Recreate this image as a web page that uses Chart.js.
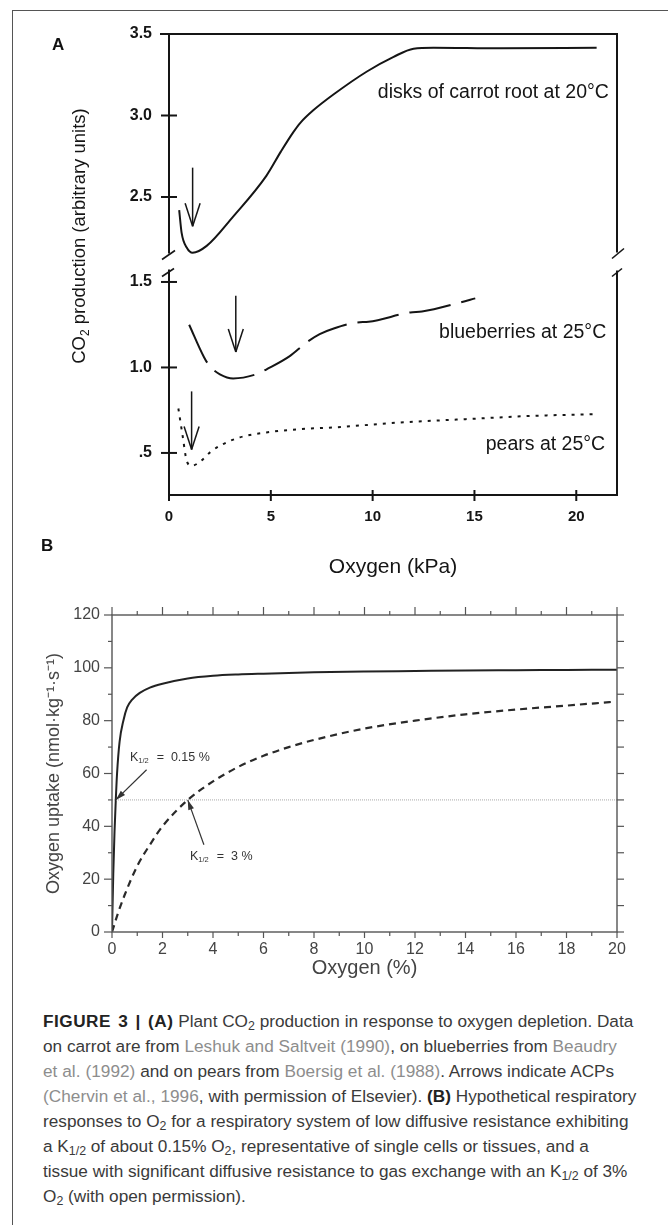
<!DOCTYPE html>
<html><head><meta charset="utf-8">
<script src="https://cdn.jsdelivr.net/npm/chart.js@4.4.0/dist/chart.umd.min.js"></script>
<style>
html,body{margin:0;padding:0;background:#fff;}
#page{position:relative;width:668px;height:1225px;overflow:hidden;background:#fff;}
#frame{position:absolute;left:12px;top:10px;width:700px;height:1300px;border-top:1px solid #555;border-left:1px solid #555;}
canvas{position:absolute;left:0;}
#cA{top:0;}
#cB{top:590px;}
.plab{position:absolute;font:bold 17px "Liberation Sans",Arial,sans-serif;color:#111;}
#caption{position:absolute;left:43px;top:1009px;font-family:"Liberation Sans",Arial,sans-serif;font-size:17.2px;line-height:25px;color:#3a3a3a;white-space:nowrap;}
#caption b{color:#222;}
#caption b.fig{letter-spacing:0.5px;word-spacing:2px;}
#caption sub{font-size:0.72em;vertical-align:-0.25em;line-height:0;}
.ref{color:#8d8d8d;letter-spacing:0.05px;}
</style></head>
<body>
<div id="page">
<div id="frame"></div>
<canvas id="cA" width="668" height="590"></canvas>
<canvas id="cB" width="668" height="410"></canvas>
<div class="plab" style="left:52px;top:35px;">A</div>
<div class="plab" style="left:41px;top:536px;">B</div>
<div id="caption"><b class="fig">FIGURE 3 | (A)</b> Plant CO<sub>2</sub> production in response to oxygen depletion. Data<br>on carrot are from <span class="ref">Leshuk and Saltveit (1990)</span>, on blueberries from <span class="ref">Beaudry</span><br><span class="ref">et al. (1992)</span> and on pears from <span class="ref">Boersig et al. (1988)</span>. Arrows indicate ACPs<br><span class="ref">(Chervin et al., 1996</span>, with permission of Elsevier). <b>(B)</b> Hypothetical respiratory<br>responses to O<sub>2</sub> for a respiratory system of low diffusive resistance exhibiting<br>a K<sub>1/2</sub> of about 0.15% O<sub>2</sub>, representative of single cells or tissues, and a<br>tissue with significant diffusive resistance to gas exchange with an K<sub>1/2</sub> of 3%<br>O<sub>2</sub> (with open permission).</div>
</div>
<script>
// ---------------- Panel A data ----------------
const carrotO2  = [0.50, 0.62, 0.87, 1.16, 1.85, 3.15, 4.78, 5.5, 6.09, 6.45, 7.07, 8.09, 9.72, 11.03, 12.01, 12.99, 16.26, 21.0];
const carrotCO2 = [2.42, 2.28, 2.19, 2.158, 2.20, 2.38, 2.63, 2.78, 2.895, 2.955, 3.03, 3.13, 3.27, 3.36, 3.41, 3.416, 3.412, 3.416];
const blueO2    = [0.99, 1.72, 2.01, 2.5, 3.15, 4.3, 4.87, 5.93, 6.75, 7.40, 8.09, 9.23, 9.80, 11.85, 12.42, 14.3, 15.04];
const blueCO2   = [1.25, 1.06, 1.006, 0.96, 0.936, 0.961, 0.994, 1.066, 1.146, 1.195, 1.228, 1.263, 1.267, 1.322, 1.327, 1.38, 1.404];
const pearO2    = [0.46, 0.67, 0.87, 1.11, 1.52, 2.01, 2.5, 3.48, 4.79, 6.42, 8.05, 11.36, 14.62, 17.89, 21.0];
const pearCO2   = [0.76, 0.60, 0.454, 0.425, 0.448, 0.503, 0.542, 0.591, 0.620, 0.639, 0.649, 0.678, 0.698, 0.717, 0.727];
const acpO2     = [1.16, 3.28, 1.11];      // arrows: carrot, blueberries, pears
const acpTail   = [2.68, 1.42, 0.86];
const acpTip    = [2.32, 1.09, 0.52];
const xTicksA          = [0, 5, 10, 15, 20];
const yTicksTop        = [2.5, 3.0, 3.5];
const yTickLabelsTop   = ['2.5', '3.0', '3.5'];
const yTicksBottom     = [0.5, 1.0, 1.5];
const yTickLabelsBottom= ['.5', '1.0', '1.5'];
const seriesNamesA     = ['disks of carrot root at 20°C', 'blueberries at 25°C', 'pears at 25°C'];

// ---------------- Panel B data ----------------
const o2PctLowK  = [0, 0.05, 0.1, 0.15, 0.2, 0.3, 0.45, 0.6, 0.8, 1.1, 1.5, 2, 3, 4, 5, 6, 8, 10, 12, 14, 16, 18, 20];
const uptakeLowK = [0, 22, 38, 50, 60, 72, 80, 85, 88, 90.5, 92.5, 94, 96, 97, 97.5, 97.8, 98.3, 98.6, 98.8, 99, 99.1, 99.2, 99.3];
const o2PctHighK  = [0, 0.25, 0.5, 1, 1.5, 2, 3, 4, 5, 6, 7, 8, 10, 12, 14, 16, 18, 19.8];
const uptakeHighK = [0, 7.5, 14, 25, 33, 40, 50, 57, 62.5, 66.7, 70, 72.7, 77, 80, 82.4, 84.2, 85.7, 87.1];
const halfO2     = [0, 20];
const halfUptake = [50, 50];
const kHalfO2    = [0.15, 3];
const kHalfText  = ['0.15 %', '3 %'];

Chart.defaults.font.family = '"Liberation Sans", Arial, sans-serif';

const pts = (xs, ys) => xs.map((x, i) => ({x, y: ys[i]}));

// annotation placement (data units)
const labelPosA = [
  {axis: 'yTop', x: 21.6, y: 3.138},
  {axis: 'yBot', x: 21.47, y: 1.206},
  {axis: 'yBot', x: 21.42, y: 0.546}
];
const acpAxis = ['yTop', 'yBot', 'yBot'];

const panelAPlugin = {
  id: 'panelA',
  afterDatasetsDraw(chart) {
    const {ctx, chartArea: ca, scales} = chart;
    const yT = scales.yTop, yB = scales.yBot, xs = scales.x;
    const L = ca.left, R = ca.right, T = ca.top, B = ca.bottom;
    const brk = yT.bottom;
    const line = (x1, y1, x2, y2) => { ctx.beginPath(); ctx.moveTo(x1, y1); ctx.lineTo(x2, y2); ctx.stroke(); };
    ctx.save();
    ctx.strokeStyle = '#151515';
    ctx.lineWidth = 2;
    line(L - 9, T, R + 1, T);
    line(L, T, L, brk - 10);
    line(L, brk + 6, L, B + 1);
    line(R, T - 1, R, brk - 11);
    line(R, brk + 7, R, B + 1);
    line(L - 1, B, R + 1, B);
    ctx.lineWidth = 1.6;
    line(L - 7, brk - 4, L + 6, brk - 13);
    line(L - 7, brk + 13, L + 5, brk + 5);
    line(R - 5, brk - 5, R + 7, brk - 15);
    line(R - 5, brk + 13, R + 5, brk + 5);
    ctx.lineWidth = 2;
    yTicksTop.forEach(v => { const p = yT.getPixelForValue(v); line(L - 8, p, L + 8, p); });
    yTicksBottom.forEach(v => { const p = yB.getPixelForValue(v); line(L - 8, p, L + 8, p); });
    xTicksA.forEach(v => { const p = xs.getPixelForValue(v); line(p, B - 5, p, B + 6); });
    // ACP arrows
    ctx.lineWidth = 1.5;
    acpO2.forEach((xv, i) => {
      const sc = scales[acpAxis[i]];
      const px = xs.getPixelForValue(xv);
      const y1 = sc.getPixelForValue(acpTail[i]);
      const y2 = sc.getPixelForValue(acpTip[i]);
      line(px, y1, px, y2);
      line(px - 7.5, y2 - 23, px, y2);
      line(px + 7.5, y2 - 23, px, y2);
    });
    // series labels
    ctx.fillStyle = '#151515';
    ctx.font = '19.5px "Liberation Sans", Arial, sans-serif';
    ctx.textAlign = 'right';
    ctx.textBaseline = 'middle';
    labelPosA.forEach((p, i) => {
      ctx.fillText(seriesNamesA[i], xs.getPixelForValue(p.x), scales[p.axis].getPixelForValue(p.y));
    });
    // y-axis title with subscript
    ctx.translate(79, 236);
    ctx.rotate(-Math.PI / 2);
    const big = '18.5px "Liberation Sans", Arial, sans-serif';
    const small = '12px "Liberation Sans", Arial, sans-serif';
    ctx.font = big; const w1 = ctx.measureText('CO').width; const w3 = ctx.measureText(' production (arbitrary units)').width;
    ctx.font = small; const w2 = ctx.measureText('2').width;
    let x0 = -(w1 + w2 + w3) / 2;
    ctx.textAlign = 'left';
    ctx.textBaseline = 'alphabetic';
    ctx.font = big; ctx.fillText('CO', x0, 6);
    ctx.font = small; ctx.fillText('2', x0 + w1, 10);
    ctx.font = big; ctx.fillText(' production (arbitrary units)', x0 + w1 + w2, 6);
    ctx.restore();
  }
};

new Chart(document.getElementById('cA'), {
  type: 'line',
  data: {
    datasets: [
      {label: seriesNamesA[0], data: pts(carrotO2, carrotCO2), yAxisID: 'yTop', borderColor: '#151515', borderWidth: 2, pointRadius: 0, cubicInterpolationMode: 'monotone', fill: false},
      {label: seriesNamesA[1], data: pts(blueO2, blueCO2), yAxisID: 'yBot', borderColor: '#151515', borderWidth: 2, borderDash: [42, 11], pointRadius: 0, cubicInterpolationMode: 'monotone', fill: false},
      {label: seriesNamesA[2], data: pts(pearO2, pearCO2), yAxisID: 'yBot', borderColor: '#151515', borderWidth: 2, borderDash: [3, 6], pointRadius: 0, cubicInterpolationMode: 'monotone', fill: false}
    ]
  },
  options: {
    responsive: false, animation: false, events: [],
    layout: {padding: {top: 34, right: 51, bottom: 0, left: 0}},
    plugins: {legend: {display: false}, tooltip: {enabled: false}},
    scales: {
      x: {
        type: 'linear', position: 'bottom', min: 0, max: 22,
        grid: {display: false, drawTicks: false}, border: {display: false},
        afterBuildTicks: s => { s.ticks = xTicksA.map(v => ({value: v})); },
        afterFit: s => { s.height = 95; },
        ticks: {padding: 13, color: '#151515', font: {size: 15, weight: 'bold'}, callback: v => String(v)},
        title: {display: true, text: 'Oxygen (kPa)', color: '#151515', font: {size: 21}, padding: {top: 0, bottom: 10}}
      },
      yBot: {
        type: 'linear', position: 'left', stack: 'A', stackWeight: 231.5, min: 0.254, max: 1.608,
        grid: {display: false, drawTicks: false}, border: {display: false},
        afterBuildTicks: s => { s.ticks = yTicksBottom.map(v => ({value: v})); },
        afterFit: s => { s.width = 169; },
        ticks: {padding: 17, color: '#151515', font: {size: 16, weight: 'bold'}, callback: v => yTickLabelsBottom[yTicksBottom.indexOf(v)]}
      },
      yTop: {
        type: 'linear', position: 'left', stack: 'A', stackWeight: 229.5, min: 2.092, max: 3.5,
        grid: {display: false, drawTicks: false}, border: {display: false},
        afterBuildTicks: s => { s.ticks = yTicksTop.map(v => ({value: v})); },
        afterFit: s => { s.width = 169; },
        ticks: {padding: 17, color: '#151515', font: {size: 16, weight: 'bold'}, callback: v => yTickLabelsTop[yTicksTop.indexOf(v)]}
      }
    }
  },
  plugins: [panelAPlugin]
});

// ---------------- Panel B ----------------
const kLabelPos = [ {lx: 0.71, ly: 65.9, tx: 1.37, ty: 61.4}, {lx: 3.09, ly: 28.4, tx: 3.64, ty: 33} ];

const panelBPlugin = {
  id: 'panelB',
  afterDatasetsDraw(chart) {
    const {ctx, chartArea: ca, scales: {x, y}} = chart;
    const L = ca.left, R = ca.right, T = ca.top, B = ca.bottom;
    const line = (x1, y1, x2, y2) => { ctx.beginPath(); ctx.moveTo(x1, y1); ctx.lineTo(x2, y2); ctx.stroke(); };
    ctx.save();
    ctx.strokeStyle = '#555';
    ctx.lineWidth = 1.4;
    ctx.strokeRect(L, T, R - L, B - T);
    ctx.lineWidth = 1.2;
    for (let v = 0; v <= 120; v += 10) {
      const p = y.getPixelForValue(v);
      line(L, p, L - (v % 20 === 0 ? 8 : 4), p);
      line(R, p, R + 7, p);
    }
    for (let v = 0; v <= 20; v += 1) {
      const p = x.getPixelForValue(v);
      line(p, B, p, B + (v % 2 === 0 ? 6 : 4));
      line(p, T, p, T - (v % 2 === 0 ? 8 : 4));
    }
    // K1/2 arrows and labels
    ctx.strokeStyle = '#333'; ctx.fillStyle = '#333'; ctx.lineWidth = 1.2;
    kHalfO2.forEach((k, i) => {
      const tipX = x.getPixelForValue(k), tipY = y.getPixelForValue(50);
      const tX = x.getPixelForValue(kLabelPos[i].tx), tY = y.getPixelForValue(kLabelPos[i].ty);
      line(tX, tY, tipX, tipY);
      const ang = Math.atan2(tipY - tY, tipX - tX);
      ctx.beginPath();
      ctx.moveTo(tipX, tipY);
      ctx.lineTo(tipX - 10 * Math.cos(ang) + 3 * Math.sin(ang), tipY - 10 * Math.sin(ang) - 3 * Math.cos(ang));
      ctx.lineTo(tipX - 10 * Math.cos(ang) - 3 * Math.sin(ang), tipY - 10 * Math.sin(ang) + 3 * Math.cos(ang));
      ctx.closePath(); ctx.fill();
      const lx = x.getPixelForValue(kLabelPos[i].lx), ly = y.getPixelForValue(kLabelPos[i].ly);
      ctx.textBaseline = 'middle'; ctx.textAlign = 'left';
      ctx.font = '12.5px "Liberation Sans", Arial, sans-serif';
      ctx.fillText('K', lx, ly);
      const wk = ctx.measureText('K').width;
      ctx.font = '7.5px "Liberation Sans", Arial, sans-serif';
      ctx.fillText('1/2', lx + wk, ly + 3);
      const ws = ctx.measureText('1/2').width;
      ctx.font = '12.5px "Liberation Sans", Arial, sans-serif';
      ctx.fillText('  =  ' + kHalfText[i], lx + wk + ws + 1, ly);
    });
    ctx.restore();
  }
};

new Chart(document.getElementById('cB'), {
  type: 'line',
  data: {
    datasets: [
      {data: pts(halfO2, halfUptake), borderColor: '#aaa', borderWidth: 1, borderDash: [1, 1], pointRadius: 0, fill: false},
      {data: pts(o2PctLowK, uptakeLowK), borderColor: '#222', borderWidth: 2, pointRadius: 0, cubicInterpolationMode: 'monotone', fill: false},
      {data: pts(o2PctHighK, uptakeHighK), borderColor: '#2a2a2a', borderWidth: 2.2, borderDash: [7, 5], pointRadius: 0, cubicInterpolationMode: 'monotone', fill: false}
    ]
  },
  options: {
    responsive: false, animation: false, events: [],
    layout: {padding: {top: 25, right: 51, bottom: 0, left: 0}},
    plugins: {legend: {display: false}, tooltip: {enabled: false}},
    scales: {
      x: {
        type: 'linear', min: 0, max: 20,
        grid: {display: false, drawTicks: false}, border: {display: false},
        afterFit: s => { s.height = 68; },
        ticks: {stepSize: 2, padding: 8, color: '#444', font: {size: 16}},
        title: {display: true, text: 'Oxygen (%)', color: '#444', font: {size: 20}, padding: {top: 0, bottom: 20}}
      },
      y: {
        type: 'linear', min: 0, max: 120,
        grid: {display: false, drawTicks: false}, border: {display: false},
        afterFit: s => { s.width = 112; },
        ticks: {stepSize: 20, padding: 12, color: '#444', font: {size: 16}},
        title: {display: true, text: 'Oxygen uptake (nmol·kg⁻¹·s⁻¹)', color: '#444', font: {size: 18}, padding: {top: 43, bottom: 0}}
      }
    }
  },
  plugins: [panelBPlugin]
});
</script>
</body></html>
